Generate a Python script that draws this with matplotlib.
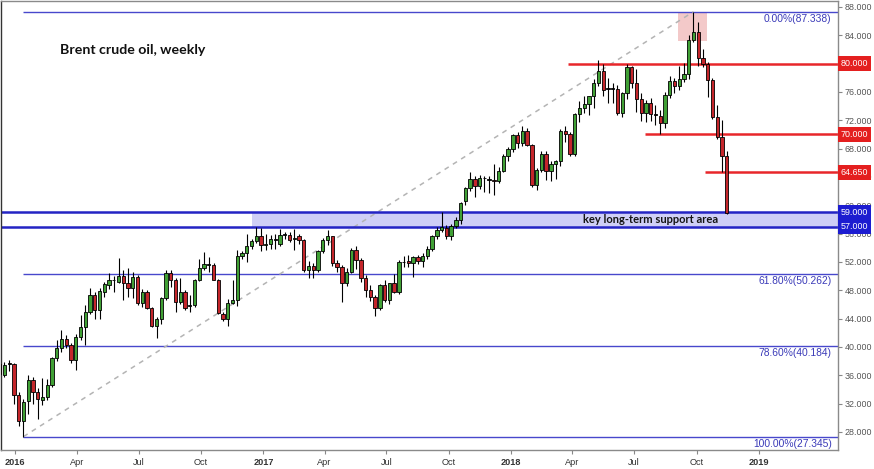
import matplotlib
matplotlib.use('Agg')
import matplotlib.pyplot as plt
import matplotlib.dates as mdates
import matplotlib.transforms as mtrans
from matplotlib.patches import Rectangle
import numpy as np
import pandas as pd

# ---------------- data (weekly Brent crude) ----------------
week_start = '2015-12-14'

opens = [37.6, 36.1, 37.6, 37.6, 33.2, 29.5, 32.4, 35.3, 33.7, 32.5,
         32.9, 34.6, 38.4, 39.8, 41.1, 40.3, 38.2, 41.4, 42.8, 45.0,
         47.4, 45.2, 47.8, 48.7, 49.4, 49.2, 50.0, 49.1, 48.3, 49.9,
         46.2, 47.7, 45.5, 43.0, 44.0, 46.9, 50.5, 49.5, 46.4, 47.7,
         45.8, 45.9, 49.5, 51.1, 51.6, 51.6, 49.5, 44.7, 43.9, 46.2,
         46.6, 52.9, 53.2, 54.3, 55.0, 55.6, 54.4, 54.6, 55.2, 54.6,
         55.8, 55.8, 55.2, 55.6, 55.1, 50.9, 51.4, 50.9, 53.5, 55.1,
         55.6, 51.8, 51.3, 49.1, 50.6, 53.7, 52.3, 49.7, 48.0, 47.1,
         45.5, 48.8, 46.6, 49.0, 47.8, 52.0, 52.2, 51.8, 52.7, 52.1,
         52.8, 53.8, 55.6, 56.5, 56.8, 55.6, 57.1, 57.9, 60.6, 62.4,
         63.7, 62.7, 63.9, 63.7, 63.6, 63.5, 64.9, 66.9, 67.9, 69.9,
         68.8, 70.5, 68.5, 62.8, 65.0, 67.3, 64.8, 65.8, 66.2, 70.5,
         70.1, 67.3, 72.9, 73.8, 74.3, 75.4, 77.3, 78.9, 76.4, 76.5,
         76.4, 73.1, 75.8, 79.5, 77.2, 75.0, 73.0, 74.4, 72.9, 72.6,
         71.6, 75.6, 77.5, 76.8, 77.9, 78.6, 83.3, 84.5, 80.8, 80.0,
         77.7, 72.5, 69.7, 66.9]

highs = [38.2, 37.9, 38.1, 37.8, 33.6, 32.6, 36.0, 35.8, 34.2, 35.6,
         35.5, 38.6, 41.0, 42.4, 41.7, 40.6, 41.9, 44.5, 45.9, 48.3,
         47.8, 48.3, 49.2, 50.4, 50.0, 52.5, 50.9, 51.1, 50.6, 50.1,
         48.2, 48.0, 45.7, 44.3, 47.1, 50.8, 50.8, 49.7, 49.7, 48.0,
         47.3, 49.6, 52.4, 53.4, 52.7, 51.8, 49.6, 44.9, 46.8, 49.5,
         53.7, 53.6, 56.0, 55.3, 57.0, 56.8, 55.9, 55.8, 56.0, 56.6,
         56.3, 56.2, 56.7, 55.9, 55.3, 52.2, 51.8, 53.7, 55.4, 56.5,
         55.7, 52.3, 51.6, 51.1, 54.0, 54.2, 52.5, 50.2, 48.7, 47.4,
         48.9, 49.5, 49.0, 50.3, 52.3, 52.9, 53.0, 52.9, 53.0, 53.3,
         54.3, 55.8, 56.9, 59.0, 57.2, 57.3, 58.4, 60.5, 62.6, 64.7,
         64.1, 64.3, 64.2, 64.2, 65.9, 65.4, 67.3, 68.3, 70.0, 70.4,
         71.2, 70.9, 68.6, 65.3, 67.6, 67.7, 66.3, 66.4, 70.8, 71.2,
         70.4, 73.0, 74.7, 75.4, 75.5, 77.8, 80.5, 79.9, 78.0, 77.2,
         77.0, 76.0, 80.0, 79.7, 79.3, 75.9, 74.8, 75.1, 74.1, 73.5,
         76.0, 78.3, 78.0, 79.6, 80.1, 84.0, 87.338, 85.9, 82.0, 80.3,
         78.0, 74.1, 72.0, 67.6]

lows = [35.9, 35.8, 36.6, 32.0, 28.8, 27.345, 30.6, 31.9, 29.8, 31.8,
        32.5, 34.4, 38.0, 39.3, 39.9, 37.7, 36.8, 41.0, 40.3, 44.6,
        44.0, 44.0, 47.0, 48.2, 47.8, 49.0, 46.7, 47.1, 46.9, 45.9,
        45.7, 45.3, 42.8, 41.2, 43.3, 46.7, 48.5, 45.0, 46.1, 45.2,
        44.9, 45.6, 49.3, 50.8, 50.6, 49.4, 44.6, 43.6, 42.9, 46.1,
        45.8, 52.4, 52.0, 53.8, 54.7, 53.5, 53.7, 53.8, 53.9, 54.3,
        55.2, 54.8, 53.7, 54.6, 50.6, 49.8, 49.7, 50.6, 53.2, 54.4,
        51.5, 50.6, 46.3, 48.6, 50.4, 51.0, 49.2, 47.0, 46.5, 44.4,
        45.2, 46.3, 46.1, 47.6, 47.5, 51.3, 51.3, 49.9, 51.7, 51.3,
        52.4, 53.5, 55.2, 56.2, 55.2, 55.1, 56.8, 57.3, 60.1, 62.0,
        61.2, 62.3, 61.9, 61.8, 61.4, 63.2, 64.7, 66.2, 67.5, 68.1,
        68.4, 68.4, 62.6, 62.2, 64.7, 63.6, 63.4, 63.7, 65.6, 68.9,
        66.9, 67.0, 71.7, 73.1, 72.8, 73.7, 76.9, 75.4, 74.5, 74.5,
        72.8, 72.5, 75.0, 76.6, 73.2, 71.9, 71.7, 71.9, 71.3, 70.0,
        70.9, 75.2, 75.8, 76.3, 77.4, 77.9, 83.0, 79.6, 79.5, 75.3,
        72.2, 69.3, 64.65, 58.8]

closes = [36.2, 37.5, 37.7, 33.2, 29.5, 32.2, 35.3, 33.7, 32.6, 33.0,
          34.6, 38.4, 39.8, 41.1, 40.3, 38.2, 41.4, 42.8, 45.0, 47.4,
          45.2, 47.9, 48.9, 49.5, 49.45, 50.0, 49.1, 48.3, 49.9, 46.2,
          47.7, 45.5, 43.0, 44.0, 46.9, 50.5, 49.5, 46.4, 47.7, 45.5,
          45.9, 49.5, 51.1, 51.7, 51.65, 49.5, 44.8, 43.9, 46.2, 46.6,
          52.9, 53.2, 54.3, 55.0, 55.6, 54.4, 54.6, 55.3, 55.1, 55.8,
          55.9, 55.1, 55.35, 55.1, 50.9, 51.4, 50.9, 53.5, 55.1, 55.6,
          51.8, 51.3, 49.1, 50.6, 53.7, 52.3, 49.7, 48.0, 47.1, 45.5,
          48.8, 46.6, 49.0, 47.8, 52.0, 52.05, 51.8, 52.7, 52.1, 52.8,
          53.8, 55.6, 56.5, 56.9, 55.6, 57.1, 57.9, 60.3, 62.4, 63.7,
          62.7, 63.9, 63.85, 63.6, 63.4, 64.9, 66.9, 67.9, 69.9, 68.8,
          70.5, 68.5, 62.8, 65.0, 67.3, 64.8, 65.8, 66.2, 70.5, 70.1,
          67.3, 72.9, 73.8, 74.3, 75.4, 77.3, 78.9, 76.3, 76.5, 76.4,
          73.1, 75.8, 79.5, 77.2, 75.0, 73.0, 74.4, 72.9, 72.8, 71.6,
          75.6, 77.5, 76.8, 77.9, 78.6, 83.3, 84.5, 80.8, 80.0, 77.7,
          72.5, 69.7, 66.9, 58.9]

fib_levels = [87.338, 50.262, 40.184, 27.345]
fib_labels = ['0.00%(87.338)', '61.80%(50.262)', '78.60%(40.184)', '100.00%(27.345)']
fib_start = '2016-01-18'

red_levels = [80.0, 70.0, 64.65]
red_labels = ['80.000', '70.000', '64.650']
red_starts = ['2018-03-25', '2018-07-17', '2018-10-13']

support_levels = [59.0, 57.0]
support_labels = ['59.000', '57.000']
support_start = '2016-12-15'
support_text = 'key long-term support area'

trend_start, trend_end = '2016-01-18', '2018-10-01'
peak_box_dates = ['2018-09-03', '2018-10-16']
peak_box_prices = [83.2, 87.338]

tick_dates = ['2016-01-01', '2016-04-01', '2016-07-01', '2016-10-01',
              '2017-01-01', '2017-04-01', '2017-07-01', '2017-10-01',
              '2018-01-01', '2018-04-01', '2018-07-01', '2018-10-01',
              '2019-01-01']
tick_labels = ['2016', 'Apr', 'Jul', 'Oct', '2017', 'Apr', 'Jul', 'Oct',
               '2018', 'Apr', 'Jul', 'Oct', '2019']
year_labels = {'2016', '2017', '2018', '2019'}

title = 'Brent crude oil, weekly'

# ---------------- styling ----------------
GREEN = '#40a035'
RED = '#c4262b'
BLUE_LINE = '#2424c4'
FIB_BLUE = '#4848cc'
FIB_TEXT = '#3a3ab8'
RED_LINE = '#e8262a'
BAND = '#cfcff6'
PINK = '#f3c9c9'

def dn(s):
    return mdates.date2num(pd.Timestamp(s).to_pydatetime())

o = np.array(opens); h = np.array(highs); l = np.array(lows); c = np.array(closes)
dates = pd.date_range(week_start, periods=len(closes), freq='7D')
x = mdates.date2num(dates.to_pydatetime()) - 4.5

W, H = 874, 469
fig = plt.figure(figsize=(W / 100, H / 100), dpi=100)
ax = fig.add_axes([1 / W, 19 / H, 837 / W, 449 / H])

px_day = 0.6788
d0 = dn('2016-01-01')
xmin = d0 - 14 / px_day
xmax = d0 + 823 / px_day
ax.set_xlim(xmin, xmax)
ax.set_ylim(25.455, 88.847)

blend = mtrans.blended_transform_factory(ax.transAxes, ax.transData)

# support band
ax.add_patch(Rectangle((dn(support_start), support_levels[1]), xmax - dn(support_start),
                       support_levels[0] - support_levels[1], facecolor=BAND,
                       edgecolor='none', zorder=1))
# peak highlight box
ax.add_patch(Rectangle((dn(peak_box_dates[0]), peak_box_prices[0]),
                       dn(peak_box_dates[1]) - dn(peak_box_dates[0]),
                       peak_box_prices[1] - peak_box_prices[0],
                       facecolor=PINK, edgecolor='none', zorder=1))

# fib lines
for lev in fib_levels:
    ax.hlines(lev, dn(fib_start) - 4.5, xmax, color=FIB_BLUE, lw=1.0, zorder=2)
for lev, lab in zip(fib_levels, fib_labels):
    ax.annotate(lab, xy=(0.9925, lev), xycoords=blend, xytext=(0, -1.5),
                textcoords='offset points', ha='right', va='top',
                color=FIB_TEXT, fontsize=7.4, family='Liberation Sans', zorder=6)

# trend line
ax.plot([dn(trend_start) - 4.5, dn(trend_end) - 4.5], [fib_levels[3], fib_levels[0]],
        color='#b4b4b4', lw=1.1, ls=(0, (3.2, 3.2)), zorder=2)

# red levels
for lev, st in zip(red_levels, red_starts):
    ax.hlines(lev, dn(st), xmax, color=RED_LINE, lw=1.8, zorder=2)

# support lines
for lev in support_levels:
    ax.axhline(lev, color=BLUE_LINE, lw=1.8, zorder=2.2)

# candles
doji = np.abs(c - o) < 0.12
face = np.where(doji, 'black', np.where(c >= o, GREEN, RED))
ax.vlines(x, l, h, color='black', lw=0.8, zorder=3)
ax.bar(x, np.maximum(np.abs(c - o), 0.02), bottom=np.minimum(o, c), width=4.9,
       color=face, edgecolor='black', linewidth=0.6, zorder=4)

# support text
ax.text(dn('2018-07-01') + 24, 57.95, support_text, ha='center', va='center',
        fontsize=8.0, fontweight='bold', family='Lato', color='#141414', zorder=6)

# title
ax.text(d0 + 45 / px_day, 81.95, title, ha='left', va='center', fontsize=10.2,
        fontweight='bold', family='Lato', color='#111111', zorder=6)

# right axis
ax.yaxis.tick_right()
yt = np.arange(28, 89, 4)
ax.set_yticks(yt)
ax.set_yticklabels(['' if v in red_levels else f'{v:.3f}' for v in yt])
ax.tick_params(axis='y', direction='out', length=3, width=0.8, colors='#888888',
               labelcolor='#555555', labelsize=6.4, pad=2)
for t in ax.get_yticklabels():
    t.set_family('Liberation Sans')

ax.set_xticks([dn(d) for d in tick_dates])
ax.set_xticklabels(tick_labels)
ax.tick_params(axis='x', direction='out', length=3, width=0.8, colors='#888888',
               labelcolor='#333333', labelsize=6.6, pad=3)
for t in ax.get_xticklabels():
    t.set_family('Liberation Sans')
    if t.get_text() in year_labels:
        t.set_fontweight('bold')

for side, col in [('left', '#333333'), ('right', '#8a8a8a'), ('top', '#8a8a8a'), ('bottom', '#8a8a8a')]:
    ax.spines[side].set_color(col)
    ax.spines[side].set_linewidth(1.0)

# price boxes on the right axis
for lev, lab in zip(red_levels, red_labels):
    ax.text(1.0035, lev, lab, transform=blend, ha='left', va='center', color='white',
            fontsize=6.4, family='Liberation Sans', zorder=10, clip_on=False,
            bbox=dict(boxstyle='square,pad=0.32', facecolor='#e41f1f', edgecolor='none'))
for lev, lab in zip(support_levels, support_labels):
    ax.text(1.0035, lev, lab, transform=blend, ha='left', va='center', color='white',
            fontsize=6.4, family='Liberation Sans', zorder=10, clip_on=False,
            bbox=dict(boxstyle='square,pad=0.32', facecolor='#1c1cd0', edgecolor='none'))

fig.savefig('out.png', dpi=100)
